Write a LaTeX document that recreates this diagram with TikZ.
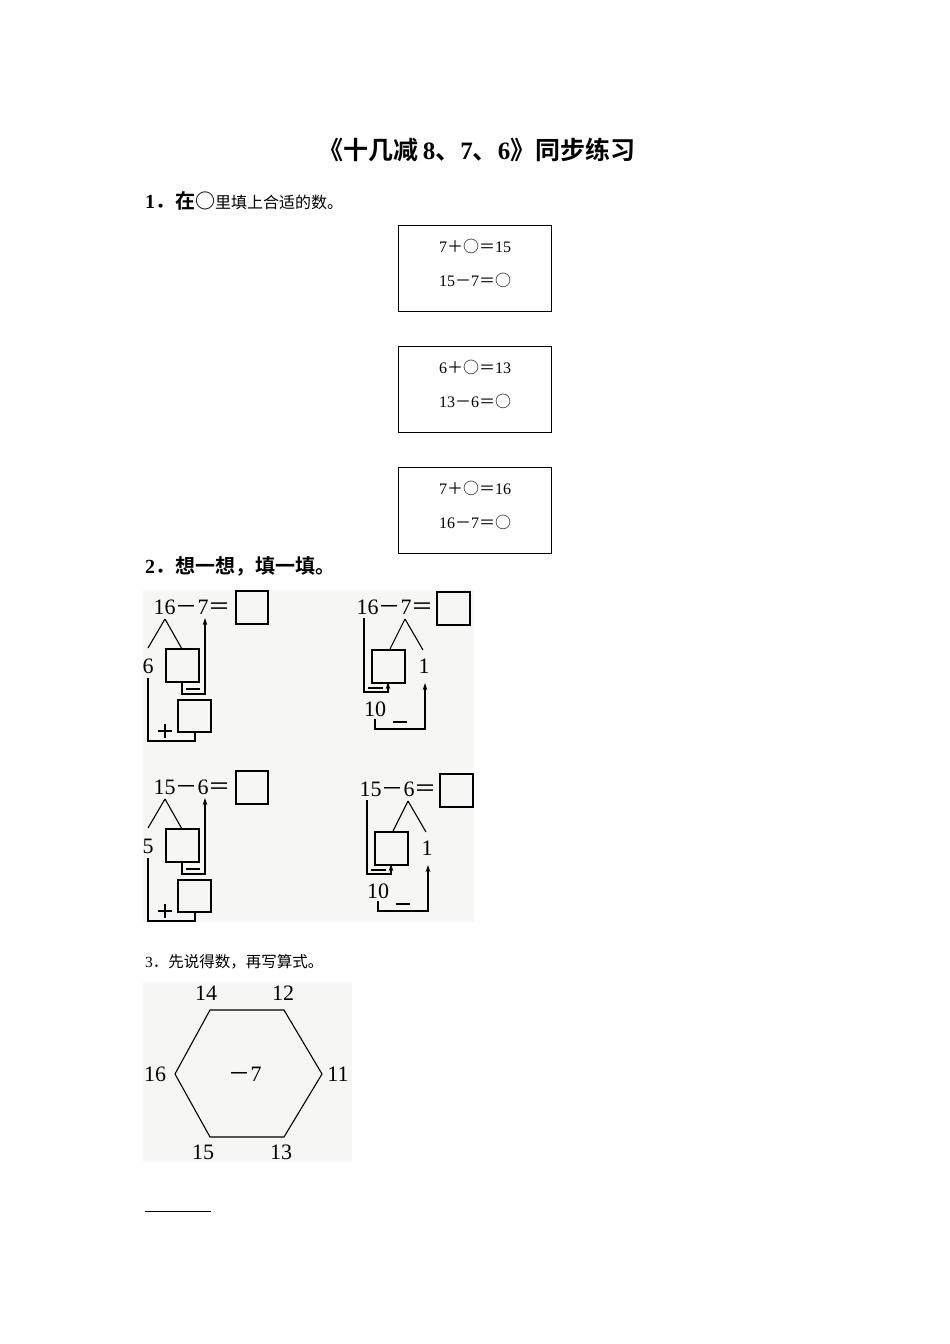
\documentclass[tikz,border=0pt]{standalone}
\usepackage{fontspec}
\setmainfont{Liberation Serif}
\newfontfamily\cjkf[BoldFont={Noto Sans CJK SC Bold}]{Noto Sans CJK SC}
\newcommand{\cjk}[1]{{\cjkf #1}}
\usetikzlibrary{arrows.meta}
\definecolor{scan}{HTML}{F6F6F4}
\begin{document}
\begin{tikzpicture}[x=1pt,y=-1pt,
  eqbox/.style={draw,line width=0.6pt},
  ans/.style={draw,line width=1.1pt},
  ln/.style={line width=1.1pt},
  arr/.style={line width=1.1pt,-{Stealth[length=7pt,width=4.5pt]}},
  num/.style={font=\fontsize{22}{22}\selectfont,inner sep=0pt},
  small/.style={font=\fontsize{16}{16}\selectfont,inner sep=0pt}]
\useasboundingbox (0,0) rectangle (950,1344);
\fill[white] (0,0) rectangle (950,1344);
% title
\node[font=\fontsize{25}{27}\selectfont\bfseries] (title) at (477,150) {\cjk{《十几减}\,8\cjk{、}7\cjk{、}6\cjk{》同步练习}};
\node[anchor=west,inner sep=0pt] (q1) at (145,201) {\fontsize{20}{20}\selectfont\bfseries 1\cjk{．在○}\fontsize{16}{16}\selectfont\mdseries\cjk{里填上合适的数。}};
% boxes
\foreach \y/\a/\b/\c in {225/7/15/15, 346/6/13/13, 467/7/16/16}{
  \draw[eqbox] (398,\y) rectangle (551,\y+86);
  \node[small] at (475,\y+21) {\a\cjk{＋○＝}\b};
  \node[small] at (475,\y+55) {\c\cjk{－}\a\cjk{＝○}};
}
\node[anchor=west,inner sep=0pt,font=\fontsize{20}{20}\selectfont\bfseries] (q2) at (145,566) {2\cjk{．想一想，填一填。}};
% scanned area
\fill[scan] (143,590) rectangle (474,922);
% diagram 1 & 3
\foreach \dy/\A/\B/\C in {0/16/7/6, 180/15/6/5}{
\begin{scope}[yshift=-\dy]
  \node[num] (e) at (192,607) {\A\cjk{－}\B\cjk{＝}};
  \draw[ans] (236,591) rectangle (268,624);
  \draw[ln] (165,619) -- (148,648);
  \draw[ln] (165,619) -- (182,649);
  \node[num] (c) at (148,666) {\C};
  \draw[ans,fill=scan] (166,649) rectangle (199,682);
  \draw[arr] (182,682) -- (182,694) -- (205,694) -- (205,618);
  \draw[ln] (186,689) -- (200,689);
  \draw[ln] (148,678) -- (148,741) -- (195,741) -- (195,732);
  \draw[ans,fill=scan] (178,700) rectangle (211,732);
  \draw[ln] (158,731) -- (172,731); \draw[ln] (165,724) -- (165,738);
\end{scope}}
% diagram 2 & 4
\foreach \dy/\dx/\A/\B in {0/0/16/7, 182/3/15/6}{
\begin{scope}[yshift=-\dy,xshift=\dx]
  \node[num] (e) at (395,607) {\A\cjk{－}\B\cjk{＝}};
  \draw[ans] (437,592) rectangle (470,625);
  \draw[arr] (364,618) -- (364,692) -- (388,692) -- (388,682);
  \draw[ln] (368,688) -- (383,688);
  \draw[ln] (405,619) -- (390,649);
  \draw[ln] (405,619) -- (423,650);
  \draw[ans,fill=scan] (372,650) rectangle (405,683);
  \node[num] at (424,666) {1};
  \node[num] at (375,709) {10};
  \draw[arr] (375,719) -- (375,729) -- (425,729) -- (425,683);
  \draw[ln] (393,722) -- (407,722);
\end{scope}}
\node[anchor=west,inner sep=0pt,font=\fontsize{15.5}{16}\selectfont] (q3) at (145,962) {3\cjk{．先说得数，再写算式。}};
\fill[scan] (143,982) rectangle (352,1162);
\draw[ln] (210,1010) -- (284,1010) -- (322,1074) -- (284,1137) -- (210,1137) -- (175,1074) -- cycle;
\node[num] at (206,993) {14};
\node[num] at (283,993) {12};
\node[num] at (155,1074) {16};
\node[num] at (338,1074) {11};
\node[num] at (203,1152) {15};
\node[num] at (281,1152) {13};
\node[num] at (245,1074) {\cjk{－}7};
\draw[line width=0.6pt] (145,1211) -- (211,1211);
\end{tikzpicture}
\end{document}
